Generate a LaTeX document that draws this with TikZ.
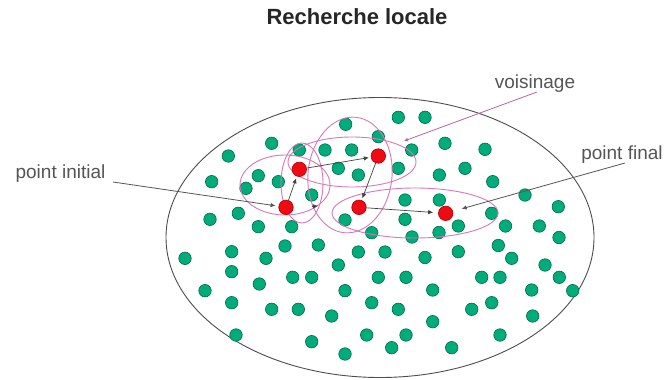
\documentclass[tikz,border=0pt]{standalone}
\usepackage{fontspec}
\setmainfont{Liberation Sans}
\usetikzlibrary{arrows.meta}

\definecolor{dotgreen}{RGB}{0,172,122}
\definecolor{dotedge}{RGB}{0,105,75}
\definecolor{ptred}{RGB}{240,10,20}
\definecolor{ptedge}{RGB}{170,0,0}
\definecolor{loopcol}{RGB}{215,120,185}
\definecolor{labelgray}{RGB}{85,85,85}

\begin{document}
\begin{tikzpicture}[
  x=1pt, y=-1pt,
  gdot/.style={circle,draw=dotedge,fill=dotgreen,line width=0.6pt,inner sep=0pt,minimum size=12.5pt},
  rdot/.style={circle,draw=ptedge,fill=ptred,line width=0.6pt,inner sep=0pt,minimum size=14.5pt},
  nbhd/.style={draw=loopcol,line width=0.9pt}, % neighbourhoods
  move/.style={draw=black!75,line width=0.7pt,-{Latex[length=5pt,width=4.5pt]},shorten >=2pt},
  pointer/.style={draw=labelgray,line width=0.8pt,-{Latex[length=5pt,width=4.5pt]}},
  lbl/.style={font=\fontsize{19}{21}\selectfont,text=labelgray,inner sep=0pt}
]
  \useasboundingbox (0,0) rectangle (667,380);

  % search space
  \draw[black!70,line width=0.9pt] (380,237.5) ellipse [x radius=214, y radius=140];

  % candidate solutions
  \foreach \x/\y [count=\i] in {
      345.7/124.3, 398.3/117.3, 425/117.3, 378.3/136.7, 271.7/143.3, 445/143.3,
      228.3/156, 299.3/150, 325/150, 351.7/150, 411.7/150, 485/149.3,
      338.3/168.3, 358.3/175, 398.3/168.3, 439.3/175, 465/168.3, 492.7/181.7,
      258.3/175.7, 211.7/181.7, 246/188.3, 278.3/181.7,
      311.7/195, 405/200, 439.3/200, 525/195,
      238.3/213.3, 210/219.3, 258.3/226.7, 291.7/226.7, 345/220, 371.7/232.7,
      405/219.3, 491.7/213.3, 558.3/206.7,
      412/237, 439/232.5, 458.3/226, 505.5/226, 539.3/226, 559/237.5,
      185/258.3, 231.7/251.7, 266/258.3, 285/246, 318.3/245, 358.3/252, 385/252,
      425/257.5, 458.3/251.7, 498.3/245.5, 511.7/258.3, 545/265,
      231.7/271.7, 259.3/284, 292.7/277.3, 311.7/277.3, 338.3/265, 378.3/277.3, 406/277.3,
      481.7/277.3, 500/277.3, 559.3/277.3,
      205/290.7, 345/290.7, 432.7/290, 531.7/290, 572.7/290.7,
      231.7/302.7, 371.7/302.7, 491.7/302.7,
      271.7/309.3, 298.3/309.3, 398.3/309.3, 471.7/309.3,
      331.7/316, 532.7/316, 432.7/321.7,
      236/335, 366.7/335, 406/335, 500/335,
      311.7/341.7, 391.7/347.7, 451.7/347.7, 345/354}
    \node[gdot] (g\i) at (\x,\y) {};

  % neighbourhoods
  \draw[nbhd] (285,185) ellipse [x radius=45, y radius=30];
  \draw[nbhd] (302,183) ellipse [x radius=21, y radius=40];
  \draw[nbhd] (352,162) ellipse [x radius=64, y radius=25];
  \draw[nbhd,rotate around={-6:(350,175)}] (350,175) ellipse [x radius=42, y radius=58];
  \draw[nbhd] (415,213) ellipse [x radius=83, y radius=25];

  % path of the search
  \node[rdot] (ini) at (286,207.3) {};
  \node[rdot] (s1) at (299.3,169.3) {};
  \node[rdot] (s2) at (378.3,156) {};
  \node[rdot] (s3) at (359,207.3) {};
  \node[rdot] (fin) at (445.7,213.3) {};

  \draw[move] (ini) -- (s1);
  \draw[move] (s1) -- (s2);
  \draw[move] (s2) -- (s3);
  \draw[move,shorten >=5pt] (s3) -- (fin);
  \coordinate (try-a) at (312,206.5);
  \coordinate (try-b) at (318,205.8);
  \draw[move,shorten >=0pt] (try-a) -- (try-b);

  % labels
  \node[font=\fontsize{22}{24}\selectfont\bfseries,text=black!85] (title) at (357,17) {Recherche locale};
  \node[lbl] (lini) at (60.5,173.5) {point initial};
  \node[lbl] (lfin) at (622,155) {point final};
  \node[lbl] (lvois) at (535,83.5) {voisinage};

  \coordinate (lini-end) at (113,182);
  \coordinate (lfin-end) at (625,163);
  \coordinate (lvois-end) at (537,92);
  \coordinate (vois-tip) at (404,141);

  \draw[pointer,shorten >=3pt] (lini-end) -- (ini);
  \draw[pointer,shorten >=9pt] (lfin-end) -- (fin);
  \draw[draw=loopcol!85!black,line width=0.8pt,-{Latex[length=4pt,width=4pt]}] (lvois-end) -- (vois-tip);
\end{tikzpicture}
\end{document}
